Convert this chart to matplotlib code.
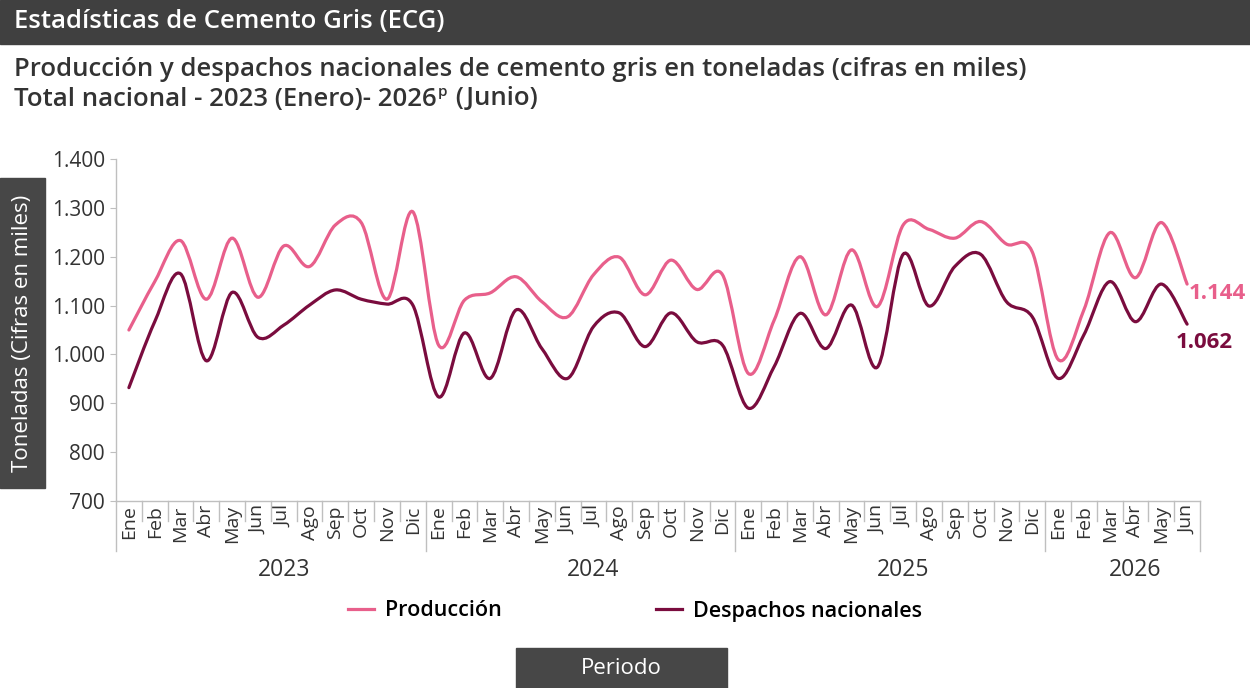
import numpy as np
import matplotlib.pyplot as plt
from matplotlib.path import Path
from matplotlib.patches import PathPatch, Rectangle
from matplotlib.lines import Line2D

plt.rcParams['font.family'] = ['Open Sans', 'DejaVu Sans']

# Datos (miles de toneladas), Ene 2023 - Jun 2026
meses = ["Ene", "Feb", "Mar", "Abr", "May", "Jun",
         "Jul", "Ago", "Sep", "Oct", "Nov", "Dic"]
anios = ["2023", "2024", "2025", "2026"]
meses_por_anio = [12, 12, 12, 6]

produccion = [1050, 1149, 1233, 1113, 1238, 1117, 1222, 1180, 1265, 1270, 1113, 1292,
              1019, 1111, 1126, 1159, 1108, 1077, 1163, 1199, 1122, 1193, 1133, 1163,
              961, 1070, 1200, 1081, 1214, 1098, 1265, 1256, 1238, 1272, 1226, 1210,
              990, 1091, 1249, 1157, 1270, 1144]
despachos = [932, 1067, 1165, 987, 1127, 1035, 1060, 1101, 1132, 1113, 1103, 1101,
             913, 1044, 951, 1091, 1012, 951, 1057, 1085, 1016, 1085, 1026, 1019,
             890, 975, 1084, 1012, 1101, 974, 1205, 1099, 1180, 1205, 1108, 1077,
             951, 1040, 1149, 1067, 1144, 1062]

etiquetas = []
for n in meses_por_anio:
    etiquetas += meses[:n]

rosa = "#e85f8b"
vino = "#7a0c3e"
gris_caja = "#404040"
texto = "#333333"


def curva_suave(x, y):
    # Bezier tipo Catmull-Rom para la linea suavizada
    pts = np.column_stack([x, y]).astype(float)
    ext = np.vstack([pts[0], pts, pts[-1]])
    verts = [pts[0]]
    codes = [Path.MOVETO]
    for i in range(1, len(ext) - 2):
        p0, p1, p2, p3 = ext[i - 1], ext[i], ext[i + 1], ext[i + 2]
        c1 = p1 + (p2 - p0) / 6.0
        c2 = p2 - (p3 - p1) / 6.0
        verts += [c1, c2, p2]
        codes += [Path.CURVE4] * 3
    return Path(verts, codes)


W, H = 1250, 688
fig = plt.figure(figsize=(W / 100, H / 100), dpi=100)
fig.patch.set_facecolor("white")


def fx(px):
    return px / W


def fy(py):
    return 1 - py / H


ax = fig.add_axes([fx(116), fy(501), (1200 - 116) / W, (501 - 159) / H])

# encabezado
fig.patches.append(Rectangle((0, fy(44)), 1, 44 / H, transform=fig.transFigure,
                             color=gris_caja, zorder=0))
fig.text(fx(14), fy(22), "Estadísticas de Cemento Gris (ECG)", color="white",
         fontsize=18.5, fontweight="semibold", va="center", ha="left")

fig.text(fx(14), fy(69), "Producción y despachos nacionales de cemento gris en toneladas (cifras en miles)",
         color=texto, fontsize=18.5, fontweight="semibold", va="center", ha="left")
t2 = fig.text(fx(14), fy(99), "Total nacional - 2023 (Enero)- 2026", color=texto,
              fontsize=18.5, fontweight="semibold", va="center", ha="left")
ax.annotate("p", xy=(1, 0.5), xycoords=t2, xytext=(1, 0), textcoords="offset points",
            color=texto, fontsize=11, fontweight="semibold", va="bottom", ha="left",
            annotation_clip=False)
ax.annotate(" (Junio)", xy=(1, 0.5), xycoords=t2, xytext=(9, 0), textcoords="offset points",
            color=texto, fontsize=18.5, fontweight="semibold", va="center", ha="left",
            annotation_clip=False)

x = np.arange(len(produccion))
ax.add_patch(PathPatch(curva_suave(x, produccion), fill=False, edgecolor=rosa,
                       linewidth=2.3, capstyle="round", zorder=3))
ax.add_patch(PathPatch(curva_suave(x, despachos), fill=False, edgecolor=vino,
                       linewidth=2.3, capstyle="round", zorder=3))

ax.set_xlim(-0.5, len(x) - 0.5)
ax.set_ylim(700, 1400)
ax.set_yticks(np.arange(700, 1401, 100))
ax.set_yticklabels([f"{v:,}".replace(",", ".") for v in range(700, 1401, 100)],
                   fontsize=15, color=texto)
ax.tick_params(axis="y", length=4, color="#bfbfbf", pad=4)

for s in ["top", "right"]:
    ax.spines[s].set_visible(False)
for s in ["left", "bottom"]:
    ax.spines[s].set_color("#bfbfbf")
    ax.spines[s].set_linewidth(1)

ax.set_xticks(x)
ax.set_xticklabels(etiquetas, rotation=90, fontsize=14, color=texto, va="top")
ax.tick_params(axis="x", length=0, pad=3)

# separadores de meses y anios
trans = ax.get_xaxis_transform()
fin_anios = np.cumsum(meses_por_anio)
ini_anios = np.concatenate([[0], fin_anios[:-1]])
px_ax = 501 - 159
for b in range(len(x) + 1):
    largo = 50 if (b in ini_anios or b == len(x)) else 20
    ax.plot([b - 0.5, b - 0.5], [0, -largo / px_ax], transform=trans, color="#bfbfbf",
            linewidth=1, clip_on=False)

for anio, i0, n in zip(anios, ini_anios, meses_por_anio):
    ax.text(i0 + n / 2, -69 / px_ax, anio, transform=trans, ha="center", va="center",
            fontsize=16.5, color=texto)

# etiquetas finales
ax.annotate(f"{produccion[-1]:,}".replace(",", "."), xy=(x[-1], produccion[-1]),
            xytext=(1, -7), textcoords="offset points", ha="left", va="center",
            fontsize=16, fontweight="bold", color=rosa, annotation_clip=False)
ax.annotate(f"{despachos[-1]:,}".replace(",", "."), xy=(x[-1], despachos[-1]),
            xytext=(-8, -13), textcoords="offset points", ha="left", va="center",
            fontsize=16, fontweight="bold", color=vino, annotation_clip=False)

# caja del eje y
fig.patches.append(Rectangle((0, fy(488)), 45 / W, (488 - 178) / H, transform=fig.transFigure,
                             color="#474747", zorder=0))
fig.text(fx(22.5), fy(333), "Toneladas (Cifras en miles)", rotation=90, color="white",
         fontsize=16, ha="center", va="center")

# leyenda
handles = [Line2D([], [], color=rosa, linewidth=2.3), Line2D([], [], color=vino, linewidth=2.3)]
fig.legend(handles, ["Producción", "Despachos nacionales"], loc="center",
           bbox_to_anchor=(fx(635), fy(611)), ncol=2, frameon=False,
           prop={"size": 15.5, "weight": "semibold"}, handlelength=1.2,
           handletextpad=0.5, columnspacing=7.2)

# caja Periodo
fig.patches.append(Rectangle((fx(516), 0), (727 - 516) / W, 40 / H, transform=fig.transFigure,
                             color="#474747", zorder=0))
fig.text(fx(621.5), fy(668), "Periodo", color="white", fontsize=16, ha="center", va="center")

fig.savefig("out.png", dpi=100)
